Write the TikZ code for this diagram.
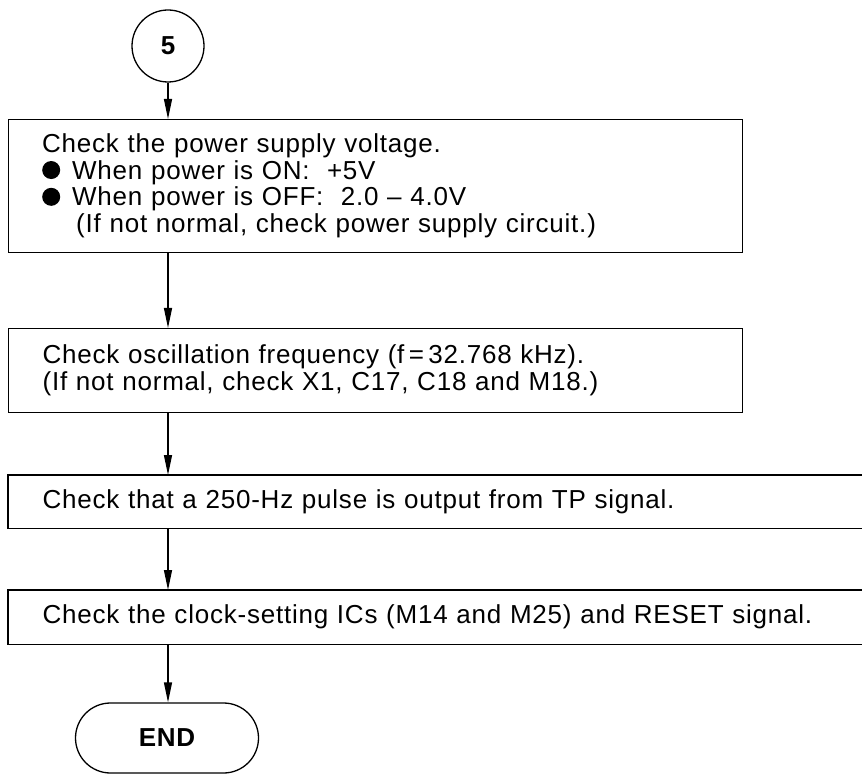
\documentclass[tikz,border=0pt]{standalone}
\usepackage{fontspec}
\setmainfont{Liberation Sans}[LetterSpace=3]
\usetikzlibrary{arrows.meta}
\newcommand\myblt{\tikz[baseline={(0pt,-9pt)}]\fill (0pt,0pt) circle[radius=9pt];}
\begin{document}
\begin{tikzpicture}[x=1pt,y=-1pt,line width=1.3pt,
  txt/.style={font=\fontsize{26}{26.8}\selectfont},
  box/.style={draw,rectangle,anchor=north west,align=left,inner xsep=34pt,inner ysep=0pt,txt},
  openbox/.style={rectangle,anchor=north west,align=left,inner xsep=34pt,inner ysep=0pt,txt},
  arr/.style={-{Triangle[length=20pt,width=8pt]},line width=1.3pt}]
\useasboundingbox (0,0) rectangle (862,775);
\node[draw,circle,minimum size=72pt,inner sep=0pt,font=\fontsize{26}{26}\selectfont\bfseries] (c5) at (168,46) {5};
\node[box,minimum width=734pt,text width=666pt,minimum height=133pt] (b1) at (8,119)
 {Check the power supply voltage.\\
  \myblt\hspace{12pt}When power is ON:\ \ +5V\\
  \myblt\hspace{12pt}When power is OFF:\ \ 2.0 -- 4.0V\\
  \hspace*{34pt}(If not normal, check power supply circuit.)};
\node[box,minimum width=734pt,text width=666pt,minimum height=84pt] (b2) at (8,328)
 {Check oscillation frequency (f\,=\,32.768 kHz).\\
  (If not normal, check X1, C17, C18 and M18.)};
\node[openbox,minimum width=862pt,text width=794pt,minimum height=52pt] (b3) at (8,475)
 {Check that a 250-Hz pulse is output from TP signal.};
\node[openbox,minimum width=862pt,text width=794pt,minimum height=53pt] (b4) at (8,590)
 {Check the clock-setting ICs (M14 and M25) and RESET signal.};
\draw (b3.north east) -- (b3.north west) -- (b3.south west) -- (b3.south east);
\draw (b4.north east) -- (b4.north west) -- (b4.south west) -- (b4.south east);
\node[draw,rectangle,rounded corners=35pt,minimum width=183pt,minimum height=70pt,font=\fontsize{26}{26}\selectfont\bfseries] (end) at (167,738) {END};
\draw[arr] (c5.south) -- (c5.south |- b1.north);
\draw[arr] (c5.south |- b1.south) -- (c5.south |- b2.north);
\draw[arr] (c5.south |- b2.south) -- (c5.south |- b3.north);
\draw[arr] (c5.south |- b3.south) -- (c5.south |- b4.north);
\draw[arr] (c5.south |- b4.south) -- (c5.south |- end.north);
\end{tikzpicture}
\end{document}
